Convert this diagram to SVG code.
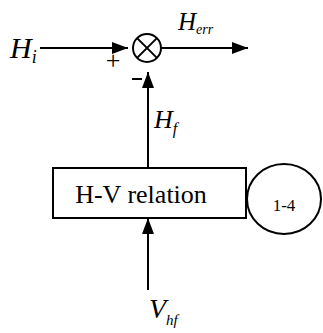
<svg xmlns="http://www.w3.org/2000/svg" width="323" height="333" viewBox="0 0 323 333">
<style>
.ln{stroke:#000;stroke-width:2;fill:none}
.lbl{font-family:"Liberation Serif",serif;font-style:italic;fill:#000}
.txt{font-family:"Liberation Serif",serif;fill:#000}
</style>
<defs>
<marker id="ah" viewBox="0 0 16 12" refX="16" refY="6" markerWidth="16" markerHeight="12" markerUnits="userSpaceOnUse" orient="auto">
<path d="M0,0 L16,6 L0,12 Z" fill="#000"/>
</marker>
</defs>
<rect width="323" height="333" fill="#fff"/>
<g id="connectors">
<line class="ln" x1="40" y1="48" x2="128" y2="48" marker-end="url(#ah)"/>
<line class="ln" x1="161" y1="48" x2="248" y2="48" marker-end="url(#ah)"/>
<line class="ln" x1="148" y1="168" x2="148" y2="72" marker-end="url(#ah)"/>
<line class="ln" x1="148" y1="290" x2="148" y2="218" marker-end="url(#ah)"/>
</g>
<g id="sum">
<circle class="ln" cx="147" cy="48" r="14"/>
<line class="ln" x1="137.1" y1="38.1" x2="156.9" y2="57.9"/>
<line class="ln" x1="156.9" y1="38.1" x2="137.1" y2="57.9"/>
<text class="txt" x="113" y="69" font-size="26" text-anchor="middle">+</text>
<line class="ln" x1="132" y1="79" x2="142" y2="79"/>
</g>
<g id="Hi"><text class="lbl" x="10" y="58" font-size="30">H<tspan font-size="18" dy="5">i</tspan></text></g>
<g id="Herr"><text class="lbl" x="178" y="30" font-size="25">H<tspan font-size="14" dy="4">err</tspan></text></g>
<g id="Hf"><text class="lbl" x="154" y="128" font-size="26">H<tspan font-size="16" dy="6">f</tspan></text></g>
<g id="Vhf"><text class="lbl" x="149" y="318" font-size="28">V<tspan font-size="15" dy="7">hf</tspan></text></g>
<g id="hv">
<rect class="ln" x="53" y="168" width="193" height="50"/>
<text class="txt" x="141" y="203" font-size="26" text-anchor="middle">H-V relation</text>
</g>
<g id="ref">
<ellipse class="ln" cx="284" cy="199" rx="37" ry="35"/>
<text class="txt" x="284" y="211" font-size="17" text-anchor="middle">1-4</text>
</g>
</svg>
